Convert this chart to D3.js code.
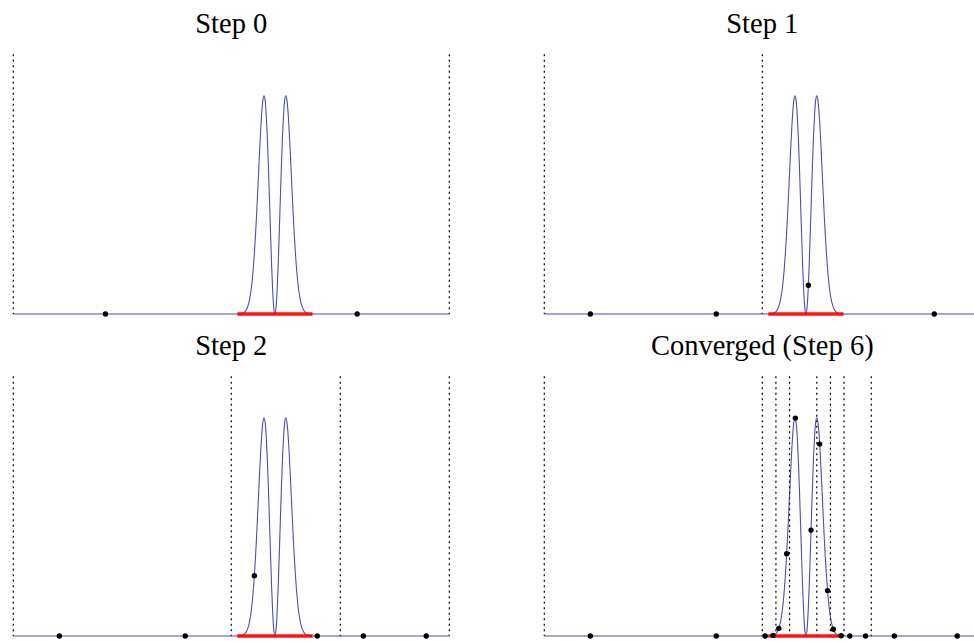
<!DOCTYPE html>
<html>
<head>
<meta charset="utf-8">
<script src="https://cdn.jsdelivr.net/npm/d3@7"></script>
<style>
  html, body { margin: 0; padding: 0; background: #fff; }
  svg { display: block; }
</style>
</head>
<body>
<svg id="chart" width="974" height="642"></svg>
<script>
// ---- data ----
const panelTitles = ["Step 0", "Step 1", "Step 2", "Converged (Step 6)"];

// interval boundaries (dotted lines) per panel
const boundaries0 = [-1, 1];
const boundaries1 = [-1, 0, 1];
const boundaries2 = [-1, 0, 0.5, 1];
const boundaries3 = [-1, 0, 0.0625, 0.125, 0.25, 0.3125, 0.375, 0.5, 1];

// quadrature nodes (x) and sampled function values (y) per panel
const nodesX0 = [-0.5774, 0.5774];
const nodesY0 = [0, 0];
const nodesX1 = [-0.7887, -0.2113, 0.2113, 0.7887];
const nodesY1 = [0, 0, 0.132, 0];
const nodesX2 = [-0.7887, -0.2113, 0.1057, 0.3943, 0.6057, 0.8943];
const nodesY2 = [0, 0, 0.276, 0, 0, 0];
const nodesX3 = [-0.7887, -0.2113, 0.0132, 0.0493, 0.0757, 0.1118, 0.1514, 0.2236,
                 0.2632, 0.2993, 0.3257, 0.3618, 0.4014, 0.4736, 0.6057, 0.8943];
const nodesY3 = [0, 0, 0, 0.003, 0.035, 0.377, 0.998, 0.485,
                 0.879, 0.208, 0.031, 0.001, 0, 0, 0, 0];

// integrand curve samples
const curveX = [-1, 0.03, 0.04, 0.05, 0.055, 0.06, 0.065, 0.07, 0.075, 0.08, 0.085, 0.09, 0.095,
  0.10, 0.105, 0.11, 0.115, 0.12, 0.125, 0.13, 0.135, 0.14, 0.145, 0.15, 0.155, 0.16, 0.165,
  0.17, 0.175, 0.18, 0.185, 0.19, 0.195, 0.20, 0.205, 0.21, 0.215, 0.22, 0.225, 0.23, 0.235,
  0.24, 0.245, 0.25, 0.255, 0.26, 0.265, 0.27, 0.275, 0.28, 0.285, 0.29, 0.295, 0.30, 0.305,
  0.31, 0.315, 0.32, 0.325, 0.33, 0.335, 0.34, 0.345, 0.35, 0.36, 0.37, 1];
const curveY = [0, 0.0003, 0.0010, 0.0030, 0.0051, 0.0084, 0.0135, 0.0213, 0.0328, 0.0493, 0.0725,
  0.1040, 0.1457, 0.1991, 0.2654, 0.3450, 0.4366, 0.5379, 0.6446, 0.7505, 0.8477, 0.9274, 0.9808,
  1.0, 0.9795, 0.9173, 0.8160, 0.6827, 0.5292, 0.3706, 0.2236, 0.1045, 0.0269, 0, 0.0269, 0.1045,
  0.2236, 0.3706, 0.5292, 0.6827, 0.8160, 0.9173, 0.9795, 1.0, 0.9808, 0.9274, 0.8477, 0.7505,
  0.6446, 0.5379, 0.4366, 0.3450, 0.2654, 0.1991, 0.1457, 0.1040, 0.0725, 0.0493, 0.0328, 0.0213,
  0.0135, 0.0084, 0.0051, 0.0030, 0.0010, 0.0003, 0];

// highlighted support interval (red)
const supportInterval = [0.0275, 0.3725];

// ---- layout ----
const panels = [
  { title: panelTitles[0], b: boundaries0, nx: nodesX0, ny: nodesY0, left: 13.3, base: 314 },
  { title: panelTitles[1], b: boundaries1, nx: nodesX1, ny: nodesY1, left: 544.3, base: 314 },
  { title: panelTitles[2], b: boundaries2, nx: nodesX2, ny: nodesY2, left: 13.3, base: 636 },
  { title: panelTitles[3], b: boundaries3, nx: nodesX3, ny: nodesY3, left: 544.3, base: 636 }
];
const panelW = 436;
const svg = d3.select("#chart");
const curveData = curveX.map((x, i) => [x, curveY[i]]);

panels.forEach(p => {
  const x = d3.scaleLinear().domain([-1, 1]).range([p.left, p.left + panelW]);
  const y = d3.scaleLinear().domain([0, 1.19]).range([p.base, p.base - 259.8]);
  const g = svg.append("g");

  g.append("text")
    .attr("x", x(0)).attr("y", p.base - 280.6)
    .attr("text-anchor", "middle")
    .attr("font-family", "'Liberation Serif', 'DejaVu Serif', serif")
    .attr("font-size", 28.5)
    .attr("fill", "#000")
    .text(p.title);

  g.selectAll("line.bound").data(p.b).join("line")
    .attr("class", "bound")
    .attr("x1", d => x(d)).attr("x2", d => x(d))
    .attr("y1", y(1.19)).attr("y2", y(0))
    .attr("stroke", "#000").attr("stroke-width", 1.2)
    .attr("stroke-dasharray", "2,3.5");

  const line = d3.line().x(d => x(d[0])).y(d => y(d[1])).curve(d3.curveMonotoneX);
  g.append("path").datum(curveData)
    .attr("d", line)
    .attr("fill", "none")
    .attr("stroke", "#22229a").attr("stroke-opacity", 0.8)
    .attr("stroke-width", 1.1);

  g.append("line")
    .attr("x1", x(supportInterval[0])).attr("x2", x(supportInterval[1]))
    .attr("y1", y(0)).attr("y2", y(0))
    .attr("stroke", "#ff0000").attr("stroke-opacity", 0.92)
    .attr("stroke-width", 3.5);

  g.selectAll("circle").data(p.nx.map((v, i) => [v, p.ny[i]])).join("circle")
    .attr("cx", d => x(d[0])).attr("cy", d => y(d[1]))
    .attr("r", 2.7).attr("fill", "#000");
});
</script>
</body>
</html>
